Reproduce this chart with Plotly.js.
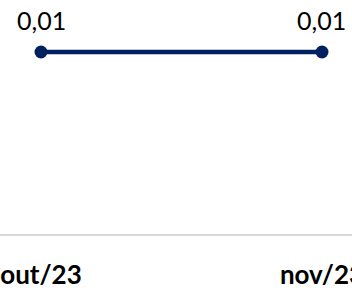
<!DOCTYPE html>
<html>
<head>
<meta charset="utf-8">
<script src="https://cdn.plot.ly/plotly-3.0.1.min.js"></script>
<style>html,body{margin:0;padding:0;background:#fff;}#chart{width:352px;height:288px;}</style>
</head>
<body>
<div id="chart"></div>
<script>
const categories = ["out/23", "nov/23"];
const values = [0.01, 0.01];
const labels = ["0,01", "0,01"];

const trace = {
  x: categories,
  y: values,
  type: "scatter",
  mode: "lines+markers",
  line: {color: "#002060", width: 4.5},
  marker: {color: "#002060", size: 13},
  cliponaxis: false,
  hoverinfo: "none"
};

const annotations = categories.map((c, i) => ({
  x: c, y: values[i], xref: "x", yref: "y",
  text: labels[i], showarrow: false,
  xanchor: "center", yanchor: "bottom", yshift: 15,
  font: {family: "Lato, sans-serif", size: 25, color: "#000000"}
}));

const layout = {
  width: 352, height: 288,
  margin: {l: 0, r: 0, t: 0, b: 54},
  paper_bgcolor: "#ffffff",
  plot_bgcolor: "#ffffff",
  showlegend: false,
  annotations: annotations,
  xaxis: {
    type: "category",
    range: [-0.1459, 1.1068],
    showgrid: false,
    zeroline: false,
    showline: true,
    linecolor: "#d9d9d9",
    linewidth: 1.5,
    ticks: "",
    tickfont: {family: "Lato, sans-serif", size: 26, color: "#000000", weight: "bold"},
    ticklabelstandoff: 17
  },
  yaxis: {
    range: [0, 0.012857],
    visible: false,
    showgrid: false,
    zeroline: false
  }
};

Plotly.newPlot("chart", [trace], layout, {displayModeBar: false, staticPlot: true});
</script>
</body>
</html>
